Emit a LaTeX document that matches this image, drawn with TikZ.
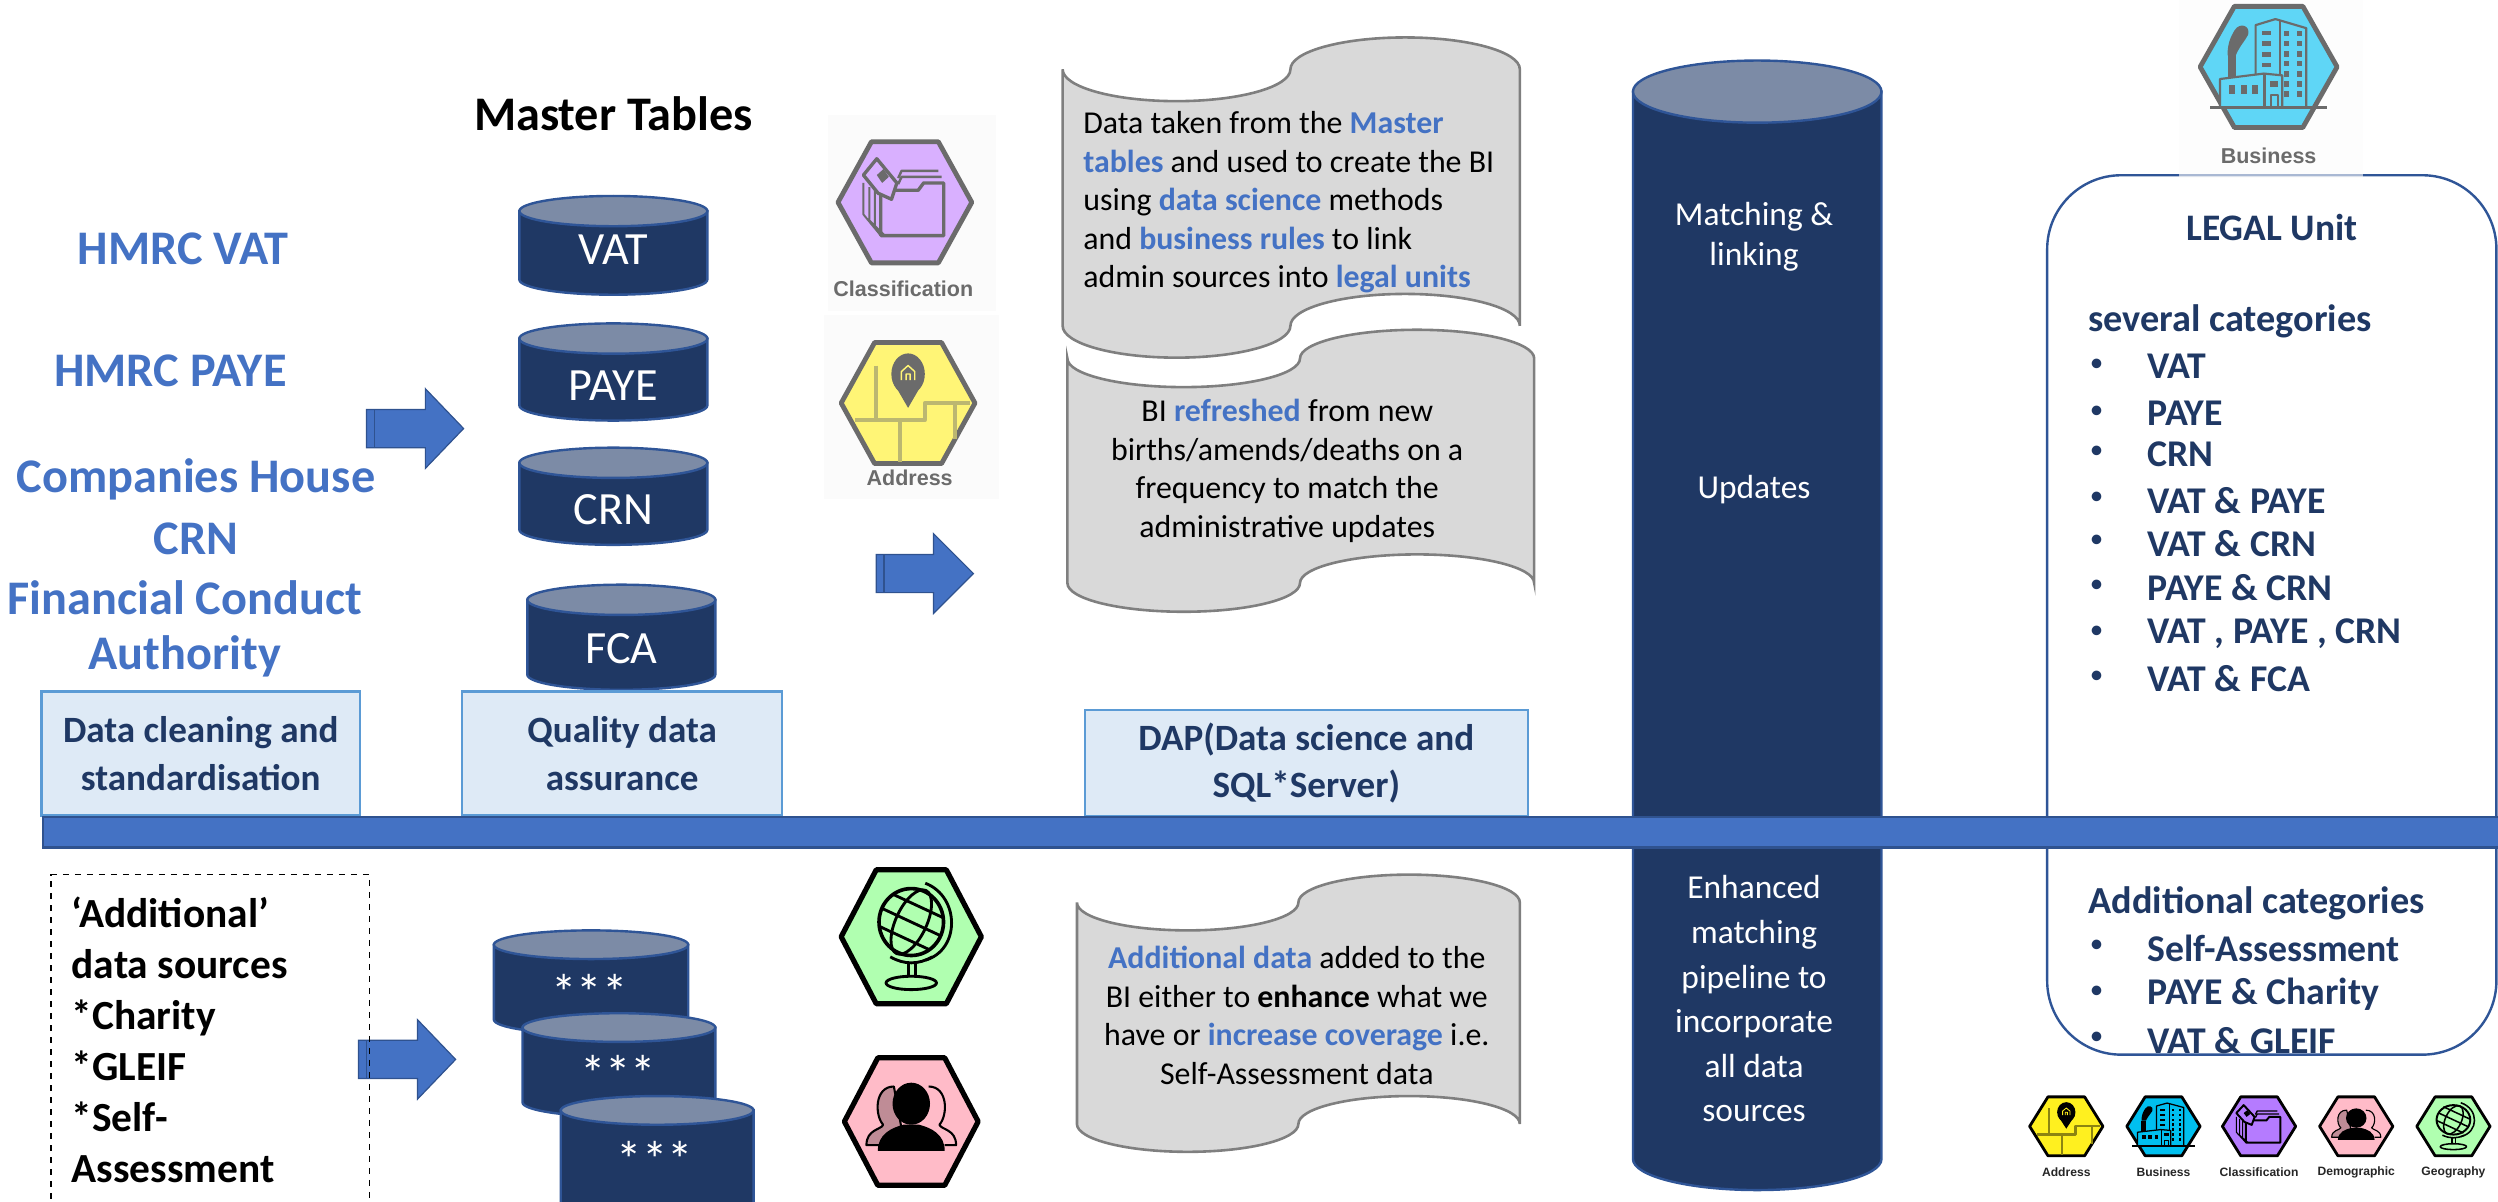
\documentclass[tikz,border=0pt]{standalone}
\usepackage{fontspec}
\setmainfont{Carlito}
\newfontfamily\arialfont{Liberation Sans}
\definecolor{navy}{HTML}{1F3864}
\definecolor{cyltop}{HTML}{7C8BA6}
\definecolor{cylline}{HTML}{2F5597}
\definecolor{accent}{HTML}{4472C4}
\definecolor{barline}{HTML}{2F528F}
\definecolor{paleblue}{HTML}{DEEAF6}
\definecolor{paleline}{HTML}{5B9BD5}
\definecolor{scrollfill}{HTML}{D9D9D9}
\definecolor{scrollline}{HTML}{7F7F7F}
\newcommand\szpt[1]{\fontsize{\dimexpr#1pt*7966/10000\relax}{\dimexpr#1pt*7966/10000*12/10\relax}\selectfont}
\newcommand\szls[2]{\fontsize{\dimexpr#1pt*7966/10000\relax}{\dimexpr#2pt*7966/10000\relax}\selectfont}
\newcommand\hl[1]{\textcolor{accent}{\textbf{#1}}}
\tikzset{
  plain/.style={inner sep=0pt,outer sep=0pt},
  srcblue/.style={plain,font=\szpt{30.3}\bfseries,text=accent},
  cyllabel/.style={plain,font=\szpt{29},text=white},
  starlabel/.style={plain,font=\szpt{32},text=white},
  stagebox/.style={plain,draw=paleline,fill=paleblue,line width=1.2pt,font=\szls{23.3}{30}\bfseries,text=navy,align=center},
  scrolltext/.style={plain,font=\szls{20}{24.2},text=black},
  coltext/.style={plain,font=\szpt{21},text=white},
  unithead/.style={plain,font=\szpt{24}\bfseries,text=navy,anchor=west},
  unititem/.style={plain,font=\szpt{23.7}\bfseries,text=navy,anchor=west},
  unitbullet/.style={plain,font=\szpt{17},text=navy},
  iconlabelfaded/.style={plain,font=\arialfont\szpt{13.5}\bfseries,text=black!58},
  iconlabel/.style={plain,font=\arialfont\szpt{7.6}\bfseries,text=black!85},
  blockarrow/.style={fill=accent,draw=barline,line width=.6pt},
  scrollshape/.style={fill=scrollfill,draw=scrollline,line width=1.3pt},
}
% cylinder: x1 x2 ytop ybot ry
\newcommand\dbcyl[5]{%
  \pgfmathsetmacro\cylm{(#1+#2)/2}\pgfmathsetmacro\cylw{(#2-#1)/2}%
  \pgfmathsetmacro\cyla{#3+#5}\pgfmathsetmacro\cylb{#4-#5}%
  \pgfmathsetmacro\cylc{#4-#5+.5523*#5}%
  \pgfmathsetmacro\cyll{\cylm-.5523*\cylw}\pgfmathsetmacro\cylr{\cylm+.5523*\cylw}%
  \draw[fill=navy,draw=cylline,line width=1.2pt]
    (#1,\cyla) -- (#1,\cylb) .. controls (#1,\cylc) and (\cyll,#4) .. (\cylm,#4)
    .. controls (\cylr,#4) and (#2,\cylc) .. (#2,\cylb) -- (#2,\cyla) -- cycle;
  \draw[fill=cyltop,draw=cylline,line width=1.2pt] (\cylm,\cyla) ellipse [x radius=\cylw,y radius=#5];
}
% half ellipse path segment: x0 x1 y depth (starts at current point (x0,y))
\newcommand\halfell[4]{%
  .. controls (#1,{#3+.5523*(#4)}) and ({(#1+#2)/2-.5523*(#2-#1)/2},{#3+#4}) .. ({(#1+#2)/2},{#3+#4})
  .. controls ({(#1+#2)/2+.5523*(#2-#1)/2},{#3+#4}) and (#2,{#3+.5523*(#4)}) .. (#2,#3)%
}
% wave scroll: xL xR xM ytip height amp
\newcommand\scrollwave[6]{%
  \pgfmathsetmacro\wvbt{#4+#5}%
  \draw[scrollshape] (#1,#4) \halfell{#1}{#3}{#4}{#6} \halfell{#3}{#2}{#4}{-#6}
     -- (#2,\wvbt) \halfell{#2}{#3}{\wvbt}{-#6} \halfell{#3}{#1}{\wvbt}{#6} -- cycle;
}
% block arrow: xL xR xHead cy halfShaft halfHead
\newcommand\blockarr[6]{%
  \pgfmathsetmacro\arsa{#4-#5}\pgfmathsetmacro\arsb{#4+#5}\pgfmathsetmacro\arha{#4-#6}\pgfmathsetmacro\arhb{#4+#6}%
  \pgfmathsetmacro\arst{#1+5}%
  \draw[blockarrow] (#1,\arsa) -- (#3,\arsa) -- (#3,\arha) -- (#2,#4) -- (#3,\arhb) -- (#3,\arsb) -- (#1,\arsb) -- cycle;
  \draw[barline,line width=.8pt] (\arst,\arsa) -- (\arst,\arsb);
}
% hexagon icon: cx cy hw hh linewidth fill stroke drawing
\newcommand\hexicon[8]{%
  \begin{scope}[shift={(#1,#2)},x=#3*0.7966pt,y=-#4*0.7966pt,line width=#5pt,line join=round]
    \colorlet{icst}{#7}\colorlet{icfi}{#6}%
    \draw[fill=icfi,draw=icst] (-1,0) -- (-.5,-1) -- (.5,-1) -- (1,0) -- (.5,1) -- (-.5,1) -- cycle;
    \def\iclw{#5}%
    #8
  \end{scope}%
}
\newcommand\icnfolder{%
  \draw[icst,line width=.5*\iclw pt] (-.1,-.4) -- (-.05,-.52) -- (.5,-.52);
  \draw[icst,line width=.5*\iclw pt] (-.1,-.3) -- (-.05,-.42) -- (.55,-.42);
  \draw[fill=icfi,draw=icst,line width=.7*\iclw pt] (-.36,-.2) -- (.2,-.2) -- (.28,-.32) -- (.58,-.32) -- (.58,.55) -- (-.36,.55) -- cycle;
  \draw[icst,line width=.4*\iclw pt] (-.62,-.32) -- (-.62,.2) -- (-.36,.55) (-.53,-.25) -- (-.53,.3) -- (-.3,.55) (-.45,-.2) -- (-.45,.4) -- (-.36,.55);
  \draw[fill=icfi,draw=icst,line width=.7*\iclw pt] (-.62,-.45) -- (-.42,-.72) -- (-.12,-.32) -- (-.2,-.05) -- (-.4,-.15) -- cycle;
  \fill[icst] (-.42,-.45) -- (-.32,-.55) -- (-.24,-.42) -- (-.34,-.32) -- cycle;
}
\newcommand\icnpin{%
  \draw[icst!45!icfi,line width=.8*\iclw pt] (-.8,.28) -- (.25,.28) -- (.25,0) -- (.93,0)
     (-.48,-.62) -- (-.48,.28) (-.12,.28) -- (-.12,.98) (.7,0) -- (.7,.6);
  \fill[icst] (0,-.48) ellipse [x radius=.25,y radius=.34];
  \fill[icst] (-.23,-.36) -- (0,.08) -- (.23,-.36) -- cycle;
  \draw[icfi,line width=.3*\iclw pt] (-.1,-.38) -- (-.1,-.52) -- (0,-.62) -- (.1,-.52) -- (.1,-.38) (-.03,-.38) -- (-.03,-.48) -- (.03,-.48) -- (.03,-.38);
}
\newcommand\icnbldg{%
  \draw[icst,line width=.45*\iclw pt] (-.19,.15) -- (-.19,-.69) -- (.1,-.79) -- (.55,-.64) -- (.55,.67);
  \draw[icst,line width=.45*\iclw pt] (.17,-.78) -- (.17,.4);
  \foreach \yy in {-.6,-.42,-.24,-.07}{\fill[icst] (-.1,\yy) rectangle (.04,{\yy+.07});}
  \foreach \yy in {-.6,-.43,-.26,-.1,.07,.24,.4}{\fill[icst] (.23,\yy) rectangle (.3,{\yy+.09});\fill[icst] (.41,\yy) rectangle (.48,{\yy+.09});}
  \fill[icst] (-.6,.2) rectangle (-.48,-.19);
  \fill[icst] (-.6,-.19) .. controls (-.6,-.4) and (-.55,-.5) .. (-.5,-.6) .. controls (-.42,-.75) and (-.26,-.68) .. (-.3,-.53) .. controls (-.35,-.42) and (-.42,-.35) .. (-.48,-.19) -- cycle;
  \draw[fill=icfi,draw=icst,line width=.45*\iclw pt] (-.71,.2) -- (-.07,.11) -- (.2,.14) -- (.2,.67) -- (-.71,.67) -- cycle;
  \draw[icst,line width=.45*\iclw pt] (-.06,.11) -- (-.06,.67);
  \draw[icst,line width=.6*\iclw pt] (-.85,.67) -- (.85,.67);
  \foreach \xx in {-.58,-.41,-.24}{\fill[icst] (\xx,.3) rectangle ({\xx+.09},.44);}
  \fill[icst] (.02,.24) rectangle (.14,.34);
  \draw[icst,line width=.4*\iclw pt] (.03,.67) -- (.03,.47) -- (.14,.47) -- (.14,.67);
}
\newcommand\icnpeople{%
  \draw[fill=icst!25!icfi,draw=icst,line width=.4*\iclw pt] (-.67,.37) .. controls (-.67,.12) and (-.45,.13) .. (-.42,.05) .. controls (-.55,-.1) and (-.55,-.55) .. (-.26,-.55) -- (-.1,.37) -- cycle;
  \draw[icst,line width=.4*\iclw pt] (.26,-.55) .. controls (.55,-.55) and (.55,-.1) .. (.42,.05) .. controls (.45,.13) and (.67,.12) .. (.67,.37) -- (.5,.37);
  \fill[icst] (0,-.28) ellipse [x radius=.28,y radius=.33];
  \fill[icst] (-.5,.46) .. controls (-.5,.2) and (-.3,.1) .. (-.12,.05) -- (.12,.05) .. controls (.3,.1) and (.5,.2) .. (.5,.46) -- cycle;
}
\newcommand\icnglobe{%
  \begin{scope}[line width=.55*\iclw pt]
   \draw[icst,line width=.7*\iclw pt] (0,-.22) ellipse [x radius=.46,y radius=.5];
   \begin{scope}[rotate around={-25:(0,-.22)}]
     \draw[icst] (0,-.22) ellipse [x radius=.22,y radius=.52];
     \draw[icst] (-.46,-.22) -- (.46,-.22) (-.4,-.48) -- (.4,-.48) (-.4,.04) -- (.4,.04);
   \end{scope}
   \draw[icst] (.2,-.8) .. controls (.7,-.6) and (.7,.2) .. (.2,.35);
   \draw[icst] (-.3,.3) .. controls (-.1,.42) and (.1,.42) .. (.3,.3);
   \draw[icst] (-.04,.4) -- (-.04,.6) (.06,.4) -- (.06,.6);
   \draw[icst] (0,.69) ellipse [x radius=.36,y radius=.1];
  \end{scope}
}
\definecolor{facl}{HTML}{D9B0FF}
\definecolor{faad}{HTML}{FFF576}
\definecolor{fabu}{HTML}{5FD6F6}
\definecolor{brgl}{HTML}{B0FFB0}
\definecolor{brde}{HTML}{FFBBC8}
\definecolor{brad}{HTML}{FFF01F}
\definecolor{brbu}{HTML}{00BFEF}
\definecolor{brcl}{HTML}{B57BFF}
\begin{document}
\begin{tikzpicture}[x=0.7966pt,y=-0.7966pt]
\path[use as bounding box,clip] (0,0) rectangle (1568,753.9);

% source names
\node[plain,font=\szpt{30.3}\bfseries] (mastertitle) at (385,71.5) {Master Tables};
\node[srcblue] (hmrcvat) at (115,156) {HMRC VAT};
\node[srcblue] (hmrcpaye) at (107,233) {HMRC PAYE};
\node[srcblue] (ch1) at (123,301) {Companies House};
\node[srcblue] (ch2) at (123,338) {CRN};
\node[srcblue] (fca1) at (116,375) {Financial Conduct};
\node[srcblue] (fca2) at (116,412) {Authority};

% cylinders
\dbcyl{326}{444}{123}{185}{9.5}
\node[cyllabel] (cvat) at (385,157) {VAT};
\dbcyl{326}{444}{203}{264}{9.5}
\node[cyllabel] (cpaye) at (385,242) {PAYE};
\dbcyl{326}{444}{281}{342}{9.5}
\node[cyllabel] (ccrn) at (385,320) {CRN};
\dbcyl{331}{449}{367}{433}{9.5}
\node[cyllabel] (cfca) at (390,407) {FCA};

% stage boxes
\node[stagebox,minimum width=159.3pt,minimum height=62pt] (stage1) at (126,473) {Data cleaning and\\standardisation};
\node[stagebox,minimum width=160.1pt,minimum height=62pt] (stage2) at (390.5,473) {Quality data\\assurance};
\node[stagebox,minimum width=221.4pt,minimum height=53pt] (stage3) at (820,479) {DAP(Data science and\\SQL*Server)};

% arrows
\blockarr{230}{291}{267}{269}{12}{25}
\blockarr{550}{611}{586}{360}{12}{25}
\blockarr{225}{286}{262}{665}{12}{25}

% scrolls
\scrollwave{667}{954}{810}{43.5}{161}{20}
\scrollwave{670}{963}{816}{225}{141}{18}
\scrollwave{676}{954}{815}{566.5}{139}{17.5}
\node[scrolltext,anchor=west,align=left] (s1) at (680,127) {Data taken from the \hl{Master}\\\hl{tables} and used to create the BI\\using \hl{data science} methods\\and \hl{business rules} to link\\admin sources into \hl{legal units}};
\node[scrolltext,align=center] (s2) at (808,295.5) {BI \hl{refreshed} from new\\births/amends/deaths on a\\frequency to match the\\administrative updates};
\node[scrolltext,align=center] (s3) at (814,637.5) {\hl{Additional data} added to the\\BI either to \textbf{enhance} what we\\have or \hl{increase coverage} i.e.\\Self-Assessment data};

% dark column
\dbcyl{1025}{1181}{38}{747}{19.5}
\node[coltext,align=center] (c1) at (1101,148.5) {Matching \&\\linking};
\node[coltext] (c2) at (1101,307) {Updates};

% right box
\draw[draw=cylline,fill=white,line width=1.2pt,rounded corners=37pt] (1285,110) rectangle (1567,662);
\fill[black!1.5,opacity=.6] (1368,0) rectangle (1483,111.5);

% bar
\draw[fill=accent,draw=barline,line width=1.2pt] (27,513) rectangle (1575,532);
\draw[draw=black,dashed,line width=.8pt] (32,760) -- (32,549) -- (232,549) -- (232,760);

% lower left text
\node[plain,anchor=north west,align=left,font=\szls{26}{32}\bfseries] (addl) at (45,563) {‘Additional’\\data sources\\*Charity\\*GLEIF\\*Self-\\Assessment};

\dbcyl{310}{432}{584}{649}{9}
\node[starlabel] (st1) at (370,623) {***};
\dbcyl{328}{449}{636}{701}{9}
\node[starlabel] (st2) at (388,674) {***};
\dbcyl{352}{473}{688}{765}{9}
\node[starlabel] (st3) at (411,728) {***};

% column lower text
\node[coltext,align=center,font=\szls{21}{28}] (c3) at (1101,627) {Enhanced\\matching\\pipeline to\\incorporate\\all data\\sources};

% right box text
\node[unithead,anchor=center,font=\szpt{23.5}\bfseries] (lu) at (1426,143) {LEGAL Unit};
\node[unithead] (sev) at (1311,202) {several categories};
\node[unititem] (i1) at (1348,230) {VAT};
\node[unititem] (i2) at (1348,259.5) {PAYE};
\node[unititem] (i3) at (1348,285) {CRN};
\node[unititem] (i4) at (1348,314) {VAT \& PAYE};
\node[unititem] (i5) at (1348,341) {VAT \& CRN};
\node[unititem] (i6) at (1348,369) {PAYE \& CRN};
\node[unititem] (i7) at (1348,398) {VAT , PAYE , CRN};
\node[unititem] (i8) at (1348,426) {VAT \& FCA};
\node[unitbullet] (b1) at (1316,229) {•};
\node[unitbullet] (b2) at (1316,259) {•};
\node[unitbullet] (b3) at (1316,284) {•};
\node[unitbullet] (b4) at (1316,313) {•};
\node[unitbullet] (b5) at (1316,340) {•};
\node[unitbullet] (b6) at (1316,368) {•};
\node[unitbullet] (b7) at (1316,397) {•};
\node[unitbullet] (b8) at (1316,425) {•};
\node[unithead] (addc) at (1311,567) {Additional categories};
\node[unititem] (j1) at (1348,595) {Self-Assessment};
\node[unititem] (j2) at (1348,624) {PAYE \& Charity};
\node[unititem] (j3) at (1348,653) {VAT \& GLEIF};
\node[unitbullet] (k1) at (1316,594) {•};
\node[unitbullet] (k2) at (1316,623) {•};
\node[unitbullet] (k3) at (1316,652) {•};

% faded icons
\fill[black!1.5] (520,72) rectangle (625,195);
\fill[black!1.5] (517,198) rectangle (627,313);
\hexicon{568}{127}{42}{38}{2.4}{facl}{black!58}{\icnfolder}
\node[iconlabelfaded] (lc) at (567,181) {Classification};
\hexicon{570}{253}{42}{38}{2.4}{faad}{black!58}{\icnpin}
\node[iconlabelfaded] (la) at (571,300) {Address};
\hexicon{1424}{42}{43}{38}{2.4}{fabu}{black!58}{\icnbldg}
\node[iconlabelfaded] (lb) at (1424,98) {Business};
% large bright icons
\hexicon{572}{588}{44}{42}{2.6}{brgl}{black}{\icnglobe}
\hexicon{572}{704}{42}{40}{2.6}{brde}{black}{\icnpeople}
% icon row
\hexicon{1297}{707}{23}{18.5}{1.4}{brad}{black}{\icnpin}
\hexicon{1358}{707}{23}{18.5}{1.4}{brbu}{black}{\icnbldg}
\hexicon{1418}{707}{23}{18.5}{1.4}{brcl}{black}{\icnfolder}
\hexicon{1479}{707}{23}{18.5}{1.4}{brde}{black}{\icnpeople}
\hexicon{1540}{707}{23}{18.5}{1.4}{brgl}{black}{\icnglobe}
\node[iconlabel] (l1) at (1297,736) {Address};
\node[iconlabel] (l2) at (1358,736) {Business};
\node[iconlabel] (l3) at (1418,736) {Classification};
\node[iconlabel] (l4) at (1479,736) {Demographic};
\node[iconlabel] (l5) at (1540,736) {Geography};
\end{tikzpicture}
\end{document}
